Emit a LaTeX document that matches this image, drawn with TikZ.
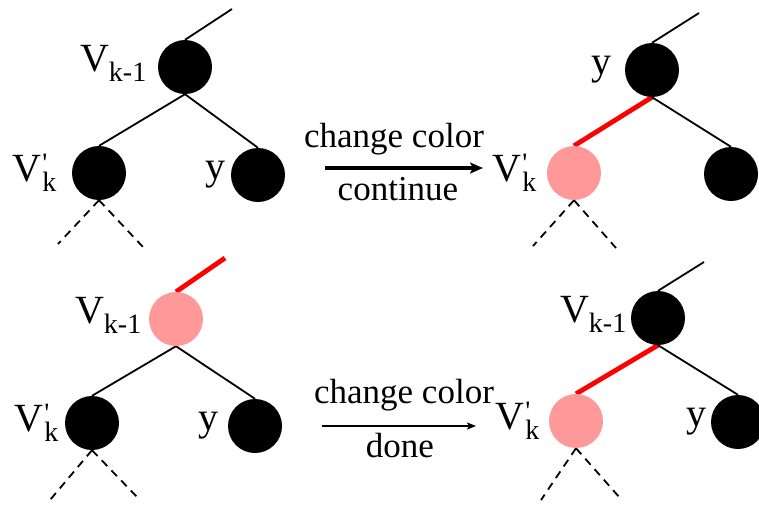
\documentclass[tikz,border=0pt]{standalone}
\usepackage{fontspec}
\setmainfont{Liberation Serif}
\usetikzlibrary{arrows.meta,backgrounds}

\definecolor{lightred}{RGB}{255,153,153}

\newcommand{\sm}{\fontsize{28}{30}\selectfont}
\newcommand{\Vsub}[1]{V\raisebox{-10pt}{\sm #1}}
\newcommand{\Vprime}{V\kern1pt\rlap{\raisebox{9pt}{\sm\textquotesingle}}\raisebox{-10pt}{\sm k}}

\begin{document}
\begin{tikzpicture}[
      x=1pt,
      y=-1pt,
      font=\fontsize{40}{44}\selectfont,
      blk/.style={circle, fill=black, minimum size=54pt, inner sep=0pt},
      pnk/.style={circle, fill=lightred, minimum size=54pt, inner sep=0pt},
      edge/.style={line width=1.8pt},
      redge/.style={line width=4.8pt, red},
      leaf/.style={line width=1.8pt, dash pattern=on 8pt off 6pt},
      txt/.style={anchor=base, font=\fontsize{35}{40}\selectfont, inner sep=0pt},
      bigarrow/.style={-{Stealth[length=13pt,width=11pt,inset=3pt]}, line width=3.5pt},
      thinarrow/.style={-{Stealth[length=9pt,width=7pt,inset=2pt]}, line width=1.6pt}
  ]
  \useasboundingbox (0,0) rectangle (759,504);

  % --- Top left: before ---
  \node[blk, label={[label distance=8pt, yshift=4pt]left:\Vsub{k-1}}] (p1) at (185,67) {};
  \node[blk, label={[label distance=12pt]left:\Vprime}]   (a1) at (99,173) {};
  \node[blk, label={[label distance=2pt]left:y}]          (b1) at (258,175) {};
  \coordinate (t1) at (232,9);
  \coordinate (l1) at (58,244);
  \coordinate (r1) at (143,247);

  % --- Top right: after ---
  \node[blk, label={[label distance=10pt]left:y}]        (p2) at (652,70) {};
  \node[pnk, label={[label distance=7pt]left:\Vprime}]   (a2) at (574,173) {};
  \node[blk]                                             (b2) at (731,174) {};
  \coordinate (t2) at (699,13);
  \coordinate (l2) at (533,246);
  \coordinate (r2) at (616,248);

  % --- Bottom left: before ---
  \node[pnk, label={[label distance=4pt, yshift=4pt]left:\Vsub{k-1}}] (p3) at (176,319) {};
  \node[blk, label={[label distance=3pt]left:\Vprime}]    (a3) at (92,423) {};
  \node[blk, label={[label distance=6pt]left:y}]          (b3) at (255,426) {};
  \coordinate (t3) at (225,258);
  \coordinate (l3) at (50,500);
  \coordinate (r3) at (138,498);

  % --- Bottom right: after ---
  \node[blk, label={[label distance=1pt, yshift=4pt]left:\Vsub{k-1}}] (p4) at (658,318) {};
  \node[pnk, label={[label distance=6pt]left:\Vprime}]    (a4) at (576,421) {};
  \node[blk, label={[label distance=1pt]left:y}]          (b4) at (738,422) {};
  \coordinate (t4) at (704,262);
  \coordinate (l4) at (541,500);
  \coordinate (r4) at (620,498);

  % --- Tree edges (behind the circles) ---
  \begin{scope}[on background layer]
    \draw[edge] (p1.north) -- (t1);
    \draw[edge] (p1.south) -- (a1.north);
    \draw[edge] (p1.south) -- (b1.north);
    \draw[leaf] (a1.south) -- (l1);
    \draw[leaf] (a1.south) -- (r1);

    \draw[edge] (p2.north) -- (t2);
    \draw[redge] (p2.south) -- (a2.north);
    \draw[edge] (p2.south) -- (b2.north);
    \draw[leaf] (a2.south) -- (l2);
    \draw[leaf] (a2.south) -- (r2);

    \draw[redge] (p3.north) -- (t3);
    \draw[edge] (p3.south) -- (a3.north);
    \draw[edge] (p3.south) -- (b3.north);
    \draw[leaf] (a3.south) -- (l3);
    \draw[leaf] (a3.south) -- (r3);

    \draw[edge] (p4.north) -- (t4);
    \draw[redge] (p4.south) -- (a4.north);
    \draw[edge] (p4.south) -- (b4.north);
    \draw[leaf] (a4.south) -- (l4);
    \draw[leaf] (a4.south) -- (r4);
  \end{scope}

  % --- Transitions ---
  \coordinate (s1) at (325,168);
  \coordinate (e1) at (483,168);
  \draw[bigarrow] (s1) -- (e1);
  \node[txt] (cc1)  at (394,147) {change color};
  \node[txt] (cont) at (398,200) {continue};

  \coordinate (s2) at (322,426);
  \coordinate (e2) at (476,426);
  \draw[thinarrow] (s2) -- (e2);
  \node[txt] (cc2)  at (404,403) {change color};
  \node[txt] (done) at (400,457) {done};

  \end{tikzpicture}
\end{document}
